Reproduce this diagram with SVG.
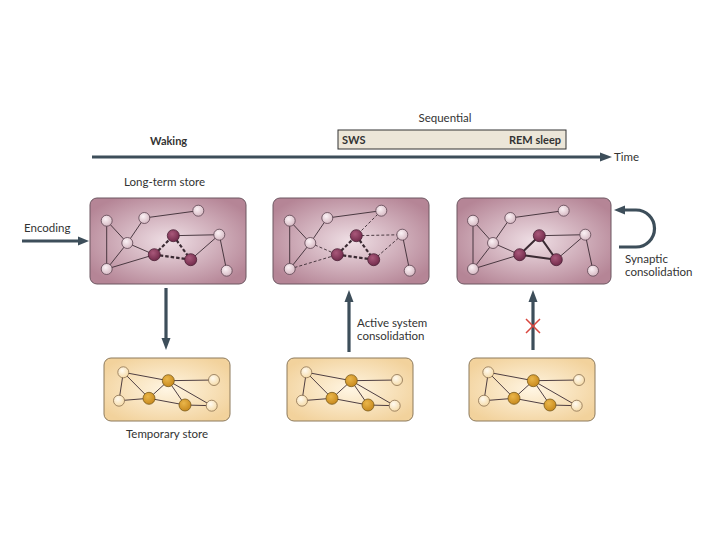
<svg xmlns="http://www.w3.org/2000/svg" width="720" height="540" viewBox="0 0 720 540">
<defs>
<radialGradient id="gLT" cx="50%" cy="50%" r="60%">
<stop offset="0" stop-color="#efdfe5"/><stop offset="1" stop-color="#b58596"/>
</radialGradient>
<radialGradient id="gTS" cx="50%" cy="50%" r="60%">
<stop offset="0" stop-color="#fff5e2"/><stop offset="1" stop-color="#f2d29c"/>
</radialGradient>
<radialGradient id="gNL" cx="40%" cy="35%" r="65%">
<stop offset="0" stop-color="#fbf2f5"/><stop offset="1" stop-color="#d7bac4"/>
</radialGradient>
<radialGradient id="gND" cx="40%" cy="35%" r="65%">
<stop offset="0" stop-color="#a9587a"/><stop offset="1" stop-color="#732c4c"/>
</radialGradient>
<radialGradient id="gTL" cx="40%" cy="35%" r="65%">
<stop offset="0" stop-color="#fffaf0"/><stop offset="1" stop-color="#f6dcaa"/>
</radialGradient>
<radialGradient id="gTD" cx="40%" cy="35%" r="65%">
<stop offset="0" stop-color="#eab64a"/><stop offset="1" stop-color="#c88a1e"/>
</radialGradient>
</defs>
<style>
text{font-family:Lato,"Open Sans","Liberation Sans",sans-serif;fill:#333;font-size:11.5px}
.b{font-weight:bold;font-size:11px}
.lt{fill:url(#gLT);stroke:#6d5661;stroke-width:1}
.ts{fill:url(#gTS);stroke:#8d7a5c;stroke-width:1}
.e{stroke:#3b2b33;stroke-width:0.9;fill:none}
.ed{stroke:#3b2b33;stroke-width:0.9;fill:none;stroke-dasharray:3,2}
.eT{stroke:#3b2b33;stroke-width:2.2;fill:none;stroke-dasharray:3.5,2}
.eS{stroke:#3b2b33;stroke-width:2;fill:none}
.nl{fill:url(#gNL);stroke:#5c4450;stroke-width:0.8}
.nd{fill:url(#gND);stroke:#4a2035;stroke-width:0.8}
.tl{fill:url(#gTL);stroke:#8a7050;stroke-width:0.8}
.td{fill:url(#gTD);stroke:#7a5a1a;stroke-width:0.8}
.ar{stroke:#3d4e5a;stroke-width:3.2;fill:none}
.ah{fill:#3d4e5a}
</style>

<g id="timeline">
<text x="445" y="122" text-anchor="middle">Sequential</text>
<text x="150" y="145" class="b">Waking</text>
<rect x="338" y="130" width="228" height="19" fill="#ece6d8" stroke="#333" stroke-width="1"/>
<text x="342" y="144" class="b">SWS</text>
<text x="561" y="144" class="b" text-anchor="end">REM sleep</text>
<line x1="92" y1="157" x2="602" y2="157" class="ar"/>
<polygon points="600,152.5 612,157 600,161.5" class="ah"/>
<text x="614" y="161">Time</text>
<text x="124" y="186">Long-term store</text>
</g>

<g id="lt1" transform="translate(90,198)">
<rect x="0" y="0" width="156" height="86" rx="7" class="lt"/>
<path class="e" d="M16.7,22.7 L16.7,71 M16.7,22.7 L37.3,45 M37.3,45 L16.7,71 M54.3,20 L37.3,45 M54.3,20 L108.3,12.7 M37.3,45 L64.3,56.7 M16.7,71 L64.3,56.7 M83.3,37.7 L129.3,36.7 M129.3,36.7 L100.7,61.7 M129.3,36.7 L136.7,72.7"/>
<path class="eT" d="M64.3,56.7 L83.3,37.7 M64.3,56.7 L100.7,61.7 M83.3,37.7 L100.7,61.7"/>
<circle cx="16.7" cy="22.7" r="5.5" class="nl"/>
<circle cx="54.3" cy="20" r="5.5" class="nl"/>
<circle cx="108.3" cy="12.7" r="5.5" class="nl"/>
<circle cx="37.3" cy="45" r="5.5" class="nl"/>
<circle cx="129.3" cy="36.7" r="5.5" class="nl"/>
<circle cx="16.7" cy="71" r="5.5" class="nl"/>
<circle cx="136.7" cy="72.7" r="5.5" class="nl"/>
<circle cx="83.3" cy="37.7" r="6" class="nd"/>
<circle cx="64.3" cy="56.7" r="6" class="nd"/>
<circle cx="100.7" cy="61.7" r="6" class="nd"/>
</g>

<g id="lt2" transform="translate(273,198)">
<rect x="0" y="0" width="156" height="86" rx="7" class="lt"/>
<path class="e" d="M16.7,22.7 L16.7,71 M16.7,22.7 L37.3,45 M37.3,45 L16.7,71 M54.3,20 L37.3,45 M54.3,20 L108.3,12.7 M129.3,36.7 L136.7,72.7"/>
<path class="ed" d="M37.3,45 L64.3,56.7 M16.7,71 L64.3,56.7 M108.3,12.7 L83.3,37.7 M83.3,37.7 L129.3,36.7 M129.3,36.7 L100.7,61.7"/>
<path class="eT" d="M64.3,56.7 L83.3,37.7 M64.3,56.7 L100.7,61.7 M83.3,37.7 L100.7,61.7"/>
<circle cx="16.7" cy="22.7" r="5.5" class="nl"/>
<circle cx="54.3" cy="20" r="5.5" class="nl"/>
<circle cx="108.3" cy="12.7" r="5.5" class="nl"/>
<circle cx="37.3" cy="45" r="5.5" class="nl"/>
<circle cx="129.3" cy="36.7" r="5.5" class="nl"/>
<circle cx="16.7" cy="71" r="5.5" class="nl"/>
<circle cx="136.7" cy="72.7" r="5.5" class="nl"/>
<circle cx="83.3" cy="37.7" r="6" class="nd"/>
<circle cx="64.3" cy="56.7" r="6" class="nd"/>
<circle cx="100.7" cy="61.7" r="6" class="nd"/>
</g>

<g id="lt3" transform="translate(457,198)">
<rect x="0" y="0" width="154" height="86" rx="7" class="lt"/>
<path class="e" d="M16,22.7 L16,71 M16,22.7 L36,45 M36,45 L16,71 M53.3,20 L36,45 M53.3,20 L106.7,12.7 M36,45 L62.7,56.7 M16,71 L62.7,56.7 M82.3,37.7 L128.3,36.7 M128.3,36.7 L99.3,61.7 M128.3,36.7 L136,72.7"/>
<path class="eS" d="M62.7,56.7 L82.3,37.7 M62.7,56.7 L99.3,61.7 M82.3,37.7 L99.3,61.7"/>
<circle cx="16" cy="22.7" r="5.5" class="nl"/>
<circle cx="53.3" cy="20" r="5.5" class="nl"/>
<circle cx="106.7" cy="12.7" r="5.5" class="nl"/>
<circle cx="36" cy="45" r="5.5" class="nl"/>
<circle cx="128.3" cy="36.7" r="5.5" class="nl"/>
<circle cx="16" cy="71" r="5.5" class="nl"/>
<circle cx="136" cy="72.7" r="5.5" class="nl"/>
<circle cx="82.3" cy="37.7" r="6" class="nd"/>
<circle cx="62.7" cy="56.7" r="6" class="nd"/>
<circle cx="99.3" cy="61.7" r="6" class="nd"/>
</g>

<g id="ts1" transform="translate(104,358)">
<rect x="0" y="0" width="126" height="63" rx="7" class="ts"/>
<path class="e" d="M19.3,14.3 L64.3,22.7 M19.3,14.3 L15,42.7 M19.3,14.3 L45,40.3 M15,42.7 L45,40.3 M45,40.3 L64.3,22.7 M64.3,22.7 L110,22 M64.3,22.7 L81,47 M64.3,22.7 L107.7,47.7 M45,40.3 L81,47 M81,47 L107.7,47.7"/>
<circle cx="19.3" cy="14.3" r="5.5" class="tl"/>
<circle cx="110" cy="22" r="5.5" class="tl"/>
<circle cx="15" cy="42.7" r="5.5" class="tl"/>
<circle cx="107.7" cy="47.7" r="5.5" class="tl"/>
<circle cx="64.3" cy="22.7" r="6" class="td"/>
<circle cx="45" cy="40.3" r="6" class="td"/>
<circle cx="81" cy="47" r="6" class="td"/>
</g>

<g id="ts2" transform="translate(287,358)">
<rect x="0" y="0" width="126" height="63" rx="7" class="ts"/>
<path class="e" d="M19.3,14.3 L64.3,22.7 M19.3,14.3 L15,42.7 M19.3,14.3 L45,40.3 M15,42.7 L45,40.3 M45,40.3 L64.3,22.7 M64.3,22.7 L110,22 M64.3,22.7 L81,47 M64.3,22.7 L107.7,47.7 M45,40.3 L81,47 M81,47 L107.7,47.7"/>
<circle cx="19.3" cy="14.3" r="5.5" class="tl"/>
<circle cx="110" cy="22" r="5.5" class="tl"/>
<circle cx="15" cy="42.7" r="5.5" class="tl"/>
<circle cx="107.7" cy="47.7" r="5.5" class="tl"/>
<circle cx="64.3" cy="22.7" r="6" class="td"/>
<circle cx="45" cy="40.3" r="6" class="td"/>
<circle cx="81" cy="47" r="6" class="td"/>
</g>

<g id="ts3" transform="translate(469,358)">
<rect x="0" y="0" width="126" height="63" rx="7" class="ts"/>
<path class="e" d="M19.3,14.3 L64.3,22.7 M19.3,14.3 L15,42.7 M19.3,14.3 L45,40.3 M15,42.7 L45,40.3 M45,40.3 L64.3,22.7 M64.3,22.7 L110,22 M64.3,22.7 L81,47 M64.3,22.7 L107.7,47.7 M45,40.3 L81,47 M81,47 L107.7,47.7"/>
<circle cx="19.3" cy="14.3" r="5.5" class="tl"/>
<circle cx="110" cy="22" r="5.5" class="tl"/>
<circle cx="15" cy="42.7" r="5.5" class="tl"/>
<circle cx="107.7" cy="47.7" r="5.5" class="tl"/>
<circle cx="64.3" cy="22.7" r="6" class="td"/>
<circle cx="45" cy="40.3" r="6" class="td"/>
<circle cx="81" cy="47" r="6" class="td"/>
</g>

<g id="connectors">
<line x1="22" y1="241" x2="80" y2="241" class="ar"/>
<polygon points="78,236.5 89,241 78,245.5" class="ah"/>
<line x1="166" y1="288" x2="166" y2="340" class="ar"/>
<polygon points="161.5,338 166,350 170.5,338" class="ah"/>
<line x1="349" y1="352" x2="349" y2="300" class="ar"/>
<polygon points="344.5,302 349,290 353.5,302" class="ah"/>
<line x1="533" y1="350" x2="533" y2="300" class="ar"/>
<polygon points="528.5,302 533,290 537.5,302" class="ah"/>
<path d="M526,319 L540,333 M540,319 L526,333" stroke="#d9473f" stroke-width="1.5" fill="none"/>
<path d="M619,247 L636,247 A18.5,18.5 0 0 0 636,210 L624,210" class="ar"/>
<polygon points="625,205.5 614,210 625,214.5" class="ah"/>
</g>

<g id="labels">
<text x="24" y="232">Encoding</text>
<text x="357" y="327">Active system</text>
<text x="357" y="340">consolidation</text>
<text x="167" y="438" text-anchor="middle">Temporary store</text>
<text x="625" y="263">Synaptic</text>
<text x="625" y="276">consolidation</text>
</g>
</svg>
